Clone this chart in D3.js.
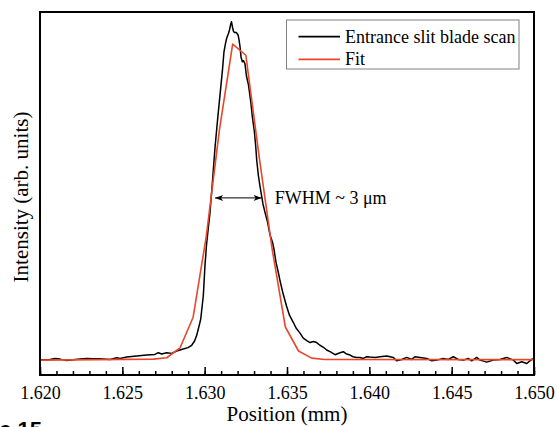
<!DOCTYPE html>
<html>
<head>
<meta charset="utf-8">
<script src="https://cdn.jsdelivr.net/npm/d3@7"></script>
<style>
  body { margin: 0; background: #fff; }
  svg { display: block; }
  text { font-family: "Liberation Serif", "Times New Roman", serif; fill: #000; }
</style>
</head>
<body>
<div id="chart"></div>
<script>
// blade scan (position in mm, intensity normalised)
var scanPos = [1.62000, 1.62061, 1.62091, 1.62121, 1.62162, 1.62202, 1.62243, 1.62284, 1.62322, 1.62364,
  1.62425, 1.62466, 1.62486, 1.62527, 1.62587, 1.62648, 1.62698, 1.62718, 1.62739, 1.62769,
  1.62800, 1.62830, 1.62870, 1.62899, 1.62921, 1.62938, 1.62952, 1.62963, 1.62976, 1.62992,
  1.63002, 1.63011, 1.63022, 1.63032, 1.63048, 1.63063, 1.63081, 1.63096, 1.63108, 1.63117,
  1.63127, 1.63134, 1.63145, 1.63152, 1.63158, 1.63163, 1.63169, 1.63175, 1.63181, 1.63193,
  1.63203, 1.63209, 1.63215, 1.63221, 1.63229, 1.63236, 1.63245, 1.63254, 1.63265, 1.63272,
  1.63281, 1.63289, 1.63301, 1.63310, 1.63316, 1.63326, 1.63336, 1.63346, 1.63354, 1.63366,
  1.63379, 1.63387, 1.63397, 1.63412, 1.63421, 1.63433, 1.63447, 1.63458, 1.63474, 1.63497,
  1.63515, 1.63538, 1.63555, 1.63579, 1.63599, 1.63620, 1.63640, 1.63660, 1.63680, 1.63700,
  1.63721, 1.63741, 1.63761, 1.63792, 1.63822, 1.63842, 1.63858, 1.63883, 1.63901, 1.63923,
  1.63943, 1.63963, 1.63984, 1.64004, 1.64035, 1.64065, 1.64106, 1.64146, 1.64166, 1.64197,
  1.64227, 1.64257, 1.64277, 1.64308, 1.64349, 1.64379, 1.64409, 1.64449, 1.64480, 1.64510,
  1.64540, 1.64571, 1.64601, 1.64622, 1.64652, 1.64672, 1.64713, 1.64753, 1.64794, 1.64834,
  1.64875, 1.64895, 1.64926, 1.64956, 1.64986, 1.65000];
var scanInt = [0.001, 0.002, 0.005, 0.003, -0.001, 0.001, 0.003, 0.005, 0.004, 0.004,
  0.002, 0.007, 0.005, 0.009, 0.012, 0.015, 0.017, 0.022, 0.018, 0.022,
  0.020, 0.027, 0.033, 0.037, 0.044, 0.056, 0.074, 0.095, 0.121, 0.192,
  0.281, 0.340, 0.391, 0.435, 0.533, 0.630, 0.725, 0.799, 0.858, 0.911,
  0.938, 0.953, 0.967, 0.979, 0.994, 1.001, 0.985, 0.973, 0.969, 0.969,
  0.962, 0.947, 0.926, 0.896, 0.883, 0.886, 0.876, 0.840, 0.817, 0.793,
  0.760, 0.722, 0.680, 0.633, 0.592, 0.547, 0.515, 0.485, 0.462, 0.438,
  0.414, 0.396, 0.370, 0.349, 0.328, 0.290, 0.260, 0.234, 0.201, 0.160,
  0.133, 0.112, 0.095, 0.080, 0.065, 0.058, 0.052, 0.055, 0.052, 0.044,
  0.038, 0.030, 0.025, 0.016, 0.022, 0.025, 0.019, 0.015, 0.010, 0.008,
  0.008, 0.005, 0.010, 0.009, 0.008, 0.010, 0.012, 0.008, -0.002, 0.002,
  0.008, 0.002, 0.010, 0.008, 0.005, -0.002, 0.000, 0.005, 0.002, 0.010,
  0.002, 0.000, 0.005, -0.002, 0.008, 0.000, -0.006, 0.000, 0.002, 0.008,
  0.000, -0.010, -0.005, -0.010, 0.002, 0.005];

// fitted curve
var fitPos = [1.6200, 1.6269, 1.6277, 1.6285, 1.6293, 1.6301, 1.6309, 1.6317,
  1.6325, 1.6333, 1.6341, 1.6349, 1.6357, 1.6365, 1.6373, 1.6500];
var fitInt = [0.000, 0.003, 0.007, 0.036, 0.127, 0.367, 0.683, 0.935,
  0.902, 0.605, 0.328, 0.098, 0.027, 0.006, 0.002, 0.0015];

var xTicks = [1.620, 1.625, 1.630, 1.635, 1.640, 1.645, 1.650];
var seriesNames = ["Entrance slit blade scan", "Fit"];
var seriesColors = ["#000000", "#e8472b"];

var W = 558, H = 427;
var margin = {top: 12, right: 24, bottom: 52, left: 40};
var w = W - margin.left - margin.right,
    h = H - margin.top - margin.bottom;

var svg = d3.select("#chart").append("svg")
  .attr("width", W).attr("height", H);

var g = svg.append("g")
  .attr("transform", "translate(" + margin.left + "," + margin.top + ")");

var x = d3.scaleLinear().domain([1.620, 1.650]).range([0, w]);
var y = d3.scaleLinear().domain([-0.044, 1.030]).range([h, 0]);

g.append("clipPath").attr("id", "clip")
  .append("rect").attr("width", w).attr("height", h);

// minor ticks every 0.001
var minor = d3.range(1.620, 1.6505, 0.001);
g.append("g")
  .attr("transform", "translate(0," + h + ")")
  .call(d3.axisBottom(x).tickValues(minor).tickSize(-4).tickFormat(""))
  .call(function(a){ a.select(".domain").remove(); })
  .selectAll("line").attr("stroke-width", 1.5);

var xAxis = g.append("g")
  .attr("transform", "translate(0," + h + ")")
  .call(d3.axisBottom(x).tickValues(xTicks).tickSize(-8).tickPadding(11)
    .tickFormat(d3.format(".3f")));
xAxis.select(".domain").remove();
xAxis.selectAll("line").attr("stroke-width", 1.5);
xAxis.selectAll("text")
  .style("font-family", '"Liberation Serif", "Times New Roman", serif')
  .style("font-size", "18px").attr("fill", "#000");

var scan = scanPos.map(function(p, i){ return [p, scanInt[i]]; });
var fit = fitPos.map(function(p, i){ return [p, fitInt[i]]; });

var line = d3.line()
  .x(function(d){ return x(d[0]); })
  .y(function(d){ return y(d[1]); });

var plot = g.append("g").attr("clip-path", "url(#clip)");
plot.append("path").datum(scan)
  .attr("fill", "none").attr("stroke", seriesColors[0])
  .attr("stroke-width", 1.5).attr("stroke-linejoin", "round")
  .attr("d", line);
plot.append("path").datum(fit)
  .attr("fill", "none").attr("stroke", seriesColors[1])
  .attr("stroke-width", 1.6).attr("stroke-linejoin", "round")
  .attr("d", line);

// frame
g.append("rect")
  .attr("width", w).attr("height", h)
  .attr("fill", "none").attr("stroke", "#000").attr("stroke-width", 2);

// FWHM arrow
var ax1 = x(1.63063), ax2 = x(1.63346), ay = y(0.48);
g.append("line").attr("x1", ax1).attr("x2", ax2).attr("y1", ay).attr("y2", ay)
  .attr("stroke", "#000").attr("stroke-width", 1);
g.append("path")
  .attr("d", "M" + ax1 + "," + ay + "l8,-3l-2,3l2,3z")
  .attr("fill", "#000");
g.append("path")
  .attr("d", "M" + ax2 + "," + ay + "l-8,-3l2,3l-2,3z")
  .attr("fill", "#000");
g.append("text")
  .attr("x", ax2 + 13).attr("y", ay + 6.5)
  .style("font-size", "18px")
  .text("FWHM ~ 3 \u03bcm");

// legend
var lg = g.append("g").attr("transform", "translate(" + (286.5 - margin.left) + "," + (20 - margin.top) + ")");
lg.append("rect").attr("width", 232.5).attr("height", 49)
  .attr("fill", "#fff").attr("stroke", "#808080").attr("stroke-width", 1);
seriesNames.forEach(function(name, i){
  var ly = 16.7 + i * 22.6;
  lg.append("line").attr("x1", 12).attr("x2", 53.5).attr("y1", ly).attr("y2", ly)
    .attr("stroke", seriesColors[i]).attr("stroke-width", 1.8);
  lg.append("text").attr("x", 58.5).attr("y", ly + 5.8)
    .style("font-size", "18px").text(name);
});

// axis titles
svg.append("text")
  .attr("x", margin.left + w / 2).attr("y", 421)
  .attr("text-anchor", "middle")
  .style("font-size", "21px")
  .text("Position (mm)");

svg.append("text")
  .attr("transform", "translate(28,197) rotate(-90)")
  .attr("text-anchor", "middle")
  .style("font-size", "21px")
  .text("Intensity (arb. units)");

// caption remnant cut off at the bottom edge
svg.append("text")
  .attr("x", 42).attr("y", 437)
  .attr("text-anchor", "end")
  .style("font-family", '"Liberation Sans", Arial, sans-serif')
  .style("font-weight", "bold").style("font-size", "22px")
  .attr("fill", "#333")
  .text("Figure 15");
</script>
</body>
</html>
